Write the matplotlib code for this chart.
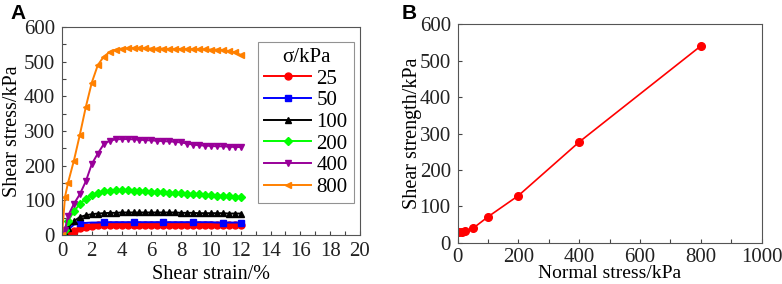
import matplotlib
matplotlib.use("Agg")
from matplotlib import pyplot as plt
from matplotlib.ticker import MultipleLocator

# shear strain grid (%)
strain = [0, 0.2, 0.4, 0.8, 1.2, 1.6, 2.0, 2.4, 2.8, 3.2, 3.6, 4.0, 4.4, 4.8, 5.2, 5.6,
          6.0, 6.4, 6.8, 7.2, 7.6, 8.0, 8.4, 8.8, 9.2, 9.6, 10.0, 10.4, 10.8, 11.2, 11.6, 12.0]

tau_25 = [0, 0, 2, 12, 20, 24, 27, 28, 29, 30, 30, 30, 30, 30, 30, 30,
          30, 30, 30, 30, 30, 30, 29, 29, 29, 29, 29, 29, 29, 28, 28, 28]
tau_50 = [0, 5, 15, 30, 34, 35, 36, 36, 37, 37, 37, 37, 37, 37, 37, 37,
          37, 37, 37, 37, 37, 37, 37, 37, 37, 37, 37, 36, 36, 36, 36, 36]
tau_100 = [0, 5, 20, 40, 52, 57, 60, 62, 63, 64, 64, 65, 65, 65, 65, 65,
           65, 65, 65, 65, 65, 64, 64, 64, 63, 63, 63, 63, 63, 62, 62, 62]
tau_200 = [0, 15, 40, 68, 90, 105, 115, 122, 126, 128, 130, 130, 129, 128, 127, 126,
           125, 124, 123, 122, 121, 120, 119, 118, 117, 116, 115, 114, 113, 112, 111, 110]
tau_400 = [0, 15, 55, 90, 118, 155, 205, 235, 262, 272, 276, 277, 277, 276, 275, 274,
           273, 272, 271, 270, 269, 267, 264, 261, 259, 258, 257, 256, 256, 255, 254, 254]
tau_800 = [0, 110, 150, 215, 290, 370, 440, 490, 515, 528, 535, 538, 539, 540, 540, 539,
           538, 538, 538, 537, 537, 537, 537, 536, 536, 536, 535, 535, 534, 531, 527, 520]

labels = ["25", "50", "100", "200", "400", "800"]
colors = ["#ff0000", "#0000ff", "#000000", "#00ff00", "#990099", "#ff8000"]
markers = ["o", "s", "^", "D", "v", "<"]

# panel B
normal_stress = [5, 12.5, 25, 50, 100, 200, 400, 800]
shear_strength = [30, 31, 32, 40, 72, 130, 277, 540]

plt.rcParams["font.family"] = "Liberation Serif"
plt.rcParams["font.size"] = 14
plt.rcParams["xtick.direction"] = "in"
plt.rcParams["ytick.direction"] = "in"
plt.rcParams["axes.edgecolor"] = "#555555"

fig = plt.figure(figsize=(7.82, 2.84), dpi=100)
ax1 = fig.add_axes([0.0793, 0.1725, 0.381, 0.732])
ax2 = fig.add_axes([0.5853, 0.1444, 0.3887, 0.771])

series = [tau_25, tau_50, tau_100, tau_200, tau_400, tau_800]
for vals, lab, col, mk in zip(series, labels, colors, markers):
    every = [4, 8, 13, 18, 23, 28, 31] if lab == "50" else None
    ms = 5 if mk != "D" else 4.5
    ax1.plot(strain, vals, color=col, marker=mk, markersize=ms, lw=1.4,
             markevery=every, label=lab)

ax1.set_xlim(0, 20)
ax1.set_ylim(0, 600)
ax1.xaxis.set_major_locator(MultipleLocator(2))
ax1.xaxis.set_minor_locator(MultipleLocator(1))
ax1.yaxis.set_major_locator(MultipleLocator(100))
ax1.yaxis.set_minor_locator(MultipleLocator(50))
ax1.set_xlabel("Shear strain/%", fontsize=14.5, labelpad=3)
ax1.set_ylabel("Shear stress/kPa", fontsize=14.5, labelpad=1.5)
leg = ax1.legend(title="σ/kPa", loc="upper right", bbox_to_anchor=(0.98, 0.93),
                 fontsize=15, title_fontsize=15, handlelength=2.25, handletextpad=0.25,
                 labelspacing=0.1, borderpad=0.3, borderaxespad=0, fancybox=False,
                 edgecolor="#777777")
leg.get_frame().set_linewidth(0.8)

ax2.plot(normal_stress, shear_strength, color="#ff0000", marker="o", markersize=5.5, lw=1.2)
ax2.set_xlim(0, 1000)
ax2.set_ylim(0, 600)
ax2.xaxis.set_major_locator(MultipleLocator(200))
ax2.xaxis.set_minor_locator(MultipleLocator(100))
ax2.yaxis.set_major_locator(MultipleLocator(100))
ax2.set_xlabel("Normal stress/kPa", fontsize=14, labelpad=-1)
ax2.set_ylabel("Shear strength/kPa", fontsize=14.5, labelpad=-2)

for ax in (ax1, ax2):
    ax.tick_params(which="both", length=3, width=0.8, colors="#444444", labelcolor="#222222", pad=5)
    ax.tick_params(which="major", labelsize=15)
ax2.tick_params(axis="x", which="major", pad=3.5)

fig.text(0.013, 0.985, "A", fontsize=15, fontweight="bold", family="Liberation Sans", va="top")
fig.text(0.513, 0.985, "B", fontsize=15, fontweight="bold", family="Liberation Sans", va="top")

fig.savefig("out.png", dpi=100)
